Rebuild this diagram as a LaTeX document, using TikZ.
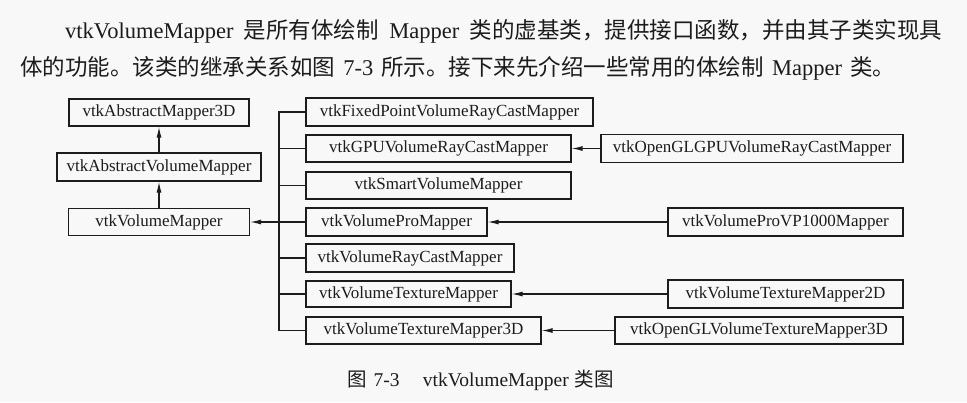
\documentclass[tikz,border=0pt]{standalone}
\usepackage{fontspec}
\setmainfont{Liberation Serif}
\newfontfamily\cjk{Noto Sans CJK SC}
\usetikzlibrary{arrows.meta}
\definecolor{bg}{RGB}{248,248,248}
\definecolor{ink}{RGB}{28,28,28}
\tikzset{
  cls/.style={draw=ink, line width=1.4pt, inner sep=0pt, font=\fontsize{17}{20}\selectfont, text=ink},
  link/.style={draw=ink, line width=1.1pt},
  inh/.style={link, -{Latex[length=11pt,width=5pt]}},
  para/.style={anchor=base west, inner sep=0pt, font=\fontsize{22.5}{27}\selectfont, text=ink},
}
\begin{document}
\begin{tikzpicture}[x=1pt,y=-1pt]
\fill[bg] (0,0) rectangle (967,402);
\useasboundingbox (0,0) rectangle (967,402);

% paragraph
\node[para] (p1) at (65,38) {\makebox[877pt][s]{vtkVolumeMapper {\cjk 是所有体绘制} Mapper {\cjk 类的虚基类，提供接口函数，并由其子类实现具}}};
\node[para] (p2) at (20,75) {\makebox[875pt][s]{{\cjk 体的功能。该类的继承关系如图} 7-3 {\cjk 所示。接下来先介绍一些常用的体绘制} Mapper {\cjk 类。}}};

% left column
\node[cls, minimum width=180pt, minimum height=27pt] (am3d) at (159,112.5) {vtkAbstractMapper3D};
\node[cls, minimum width=204pt, minimum height=28pt] (avm) at (159,167) {vtkAbstractVolumeMapper};
\node[cls, minimum width=181pt, minimum height=27pt] (vm) at (159,222) {vtkVolumeMapper};

% middle column
\node[cls, minimum width=287pt, minimum height=28pt] (fp) at (449.5,112) {vtkFixedPointVolumeRayCastMapper};
\node[cls, minimum width=265pt, minimum height=27pt] (gpu) at (438.5,148.5) {vtkGPUVolumeRayCastMapper};
\node[cls, minimum width=265pt, minimum height=27pt] (smart) at (438.5,185.5) {vtkSmartVolumeMapper};
\node[cls, minimum width=181pt, minimum height=28pt] (pro) at (396.5,222) {vtkVolumeProMapper};
\node[cls, minimum width=208pt, minimum height=28pt] (rc) at (410,258) {vtkVolumeRayCastMapper};
\node[cls, minimum width=205pt, minimum height=26pt] (tex) at (408.5,294) {vtkVolumeTextureMapper};
\node[cls, minimum width=235pt, minimum height=27pt] (tex3d) at (423.5,330.5) {vtkVolumeTextureMapper3D};

% right column
\node[cls, minimum width=302pt, minimum height=28pt] (oglgpu) at (752,148.5) {vtkOpenGLGPUVolumeRayCastMapper};
\node[cls, minimum width=235pt, minimum height=28pt] (vp1000) at (785.5,222) {vtkVolumeProVP1000Mapper};
\node[cls, minimum width=235pt, minimum height=28pt] (tex2d) at (785.5,294) {vtkVolumeTextureMapper2D};
\node[cls, minimum width=288pt, minimum height=27pt] (ogltex3d) at (759,330.5) {vtkOpenGLVolumeTextureMapper3D};

% connectors
\draw[inh] (vm.north) -- (avm.south);
\draw[inh] (avm.north) -- (am3d.south);
\coordinate (busx) at (279,0);
\draw[link] (fp.west) -- (fp.west -| busx) |- (tex3d.west);
\foreach \n in {gpu,smart,rc,tex} \draw[link] (\n.west) -- (\n.west -| busx);
\draw[inh] (pro.west) -- (vm.east);
\draw[inh] (oglgpu.west) -- (gpu.east);
\draw[inh] (vp1000.west) -- (pro.east);
\draw[inh] (tex2d.west) -- (tex.east);
\draw[inh] (ogltex3d.west) -- (tex3d.east);

% caption
\node[anchor=base west, inner sep=0pt, font=\fontsize{19.5}{23}\selectfont, text=ink] (cap) at (347,386) {{\cjk 图}\hspace{0.35em}7-3\hspace{1.2em}vtkVolumeMapper\hspace{0.3em}{\cjk 类图}};
\end{tikzpicture}
\end{document}
